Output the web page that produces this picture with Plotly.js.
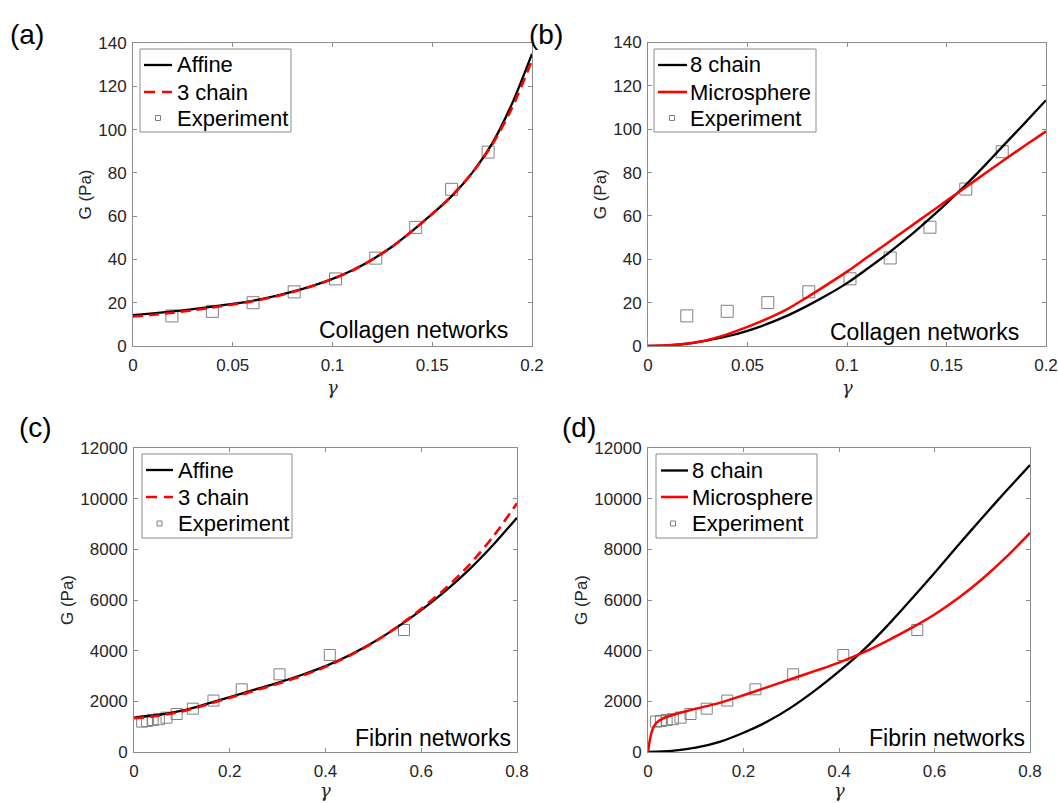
<!DOCTYPE html>
<html>
<head>
<meta charset="utf-8">
<script src="https://cdn.plot.ly/plotly-3.0.1.min.js"></script>
<style>html,body{margin:0;padding:0;background:#fff;}#chart{width:1058px;height:803px;}</style>
</head>
<body>
<div id="chart"></div>
<script>
// ---------- data ----------
// Collagen panels (a), (b)
const gammaCollagen = [0,0.01,0.02,0.03,0.04,0.05,0.06,0.07,0.08,0.09,0.10,0.11,0.12,0.13,0.14,0.15,0.16,0.17,0.18,0.19,0.20];
const affineCollagen = [14.3,15.1,16.0,17.0,18.2,19.5,20.9,22.8,25.1,27.8,31.0,35.0,40.0,46.0,53.2,61.0,69.5,80.0,93.5,112,135];
const threeChainCollagen = [13.6,14.4,15.4,16.5,17.8,19.2,20.7,22.6,24.9,27.7,30.9,34.9,40.0,46.0,53.2,61.0,69.6,80.0,93.0,110,132];
const eightChainCollagen = [0,0.3,1.1,2.6,4.5,7.0,10.2,14.0,18.5,23.5,29.0,35.5,42.3,49.6,57.5,65.8,74.6,84.0,93.8,103.5,113.4];
const microCollagen = [0,0.3,1.2,2.8,5.5,8.8,12.6,17.0,22.5,28.3,34.3,40.8,47.3,53.9,60.4,67.0,73.5,80.0,86.5,92.8,99.0];
const gammaExpCollagen = [0.0195,0.0398,0.0602,0.0808,0.1015,0.1217,0.1417,0.1597,0.178];
const GExpCollagen = [13.9,16.0,20.0,25.0,31.0,40.6,54.8,72.4,89.6];

// Fibrin panels (c), (d)
const gammaFibrin = [0,0.05,0.10,0.15,0.20,0.25,0.30,0.35,0.40,0.45,0.50,0.55,0.60,0.65,0.70,0.75,0.80];
const affineFibrin = [1360,1460,1630,1890,2170,2450,2730,3040,3390,3820,4330,4930,5600,6350,7200,8170,9250];
const threeChainFibrin = [1330,1430,1600,1860,2140,2410,2690,3000,3360,3800,4320,4940,5650,6450,7380,8500,9820];
const eightChainFibrin = [0,45,170,400,760,1200,1760,2430,3180,4000,4960,6000,7070,8170,9250,10300,11330];
const gammaMicroFibrin = [0,0.0025,0.005,0.0075,0.01,0.015,0.02,0.03,0.04,0.06,0.08,0.10,0.15,0.20,0.25,0.30,0.35,0.40,0.45,0.50,0.55,0.60,0.65,0.70,0.75,0.80];
const microFibrin = [0,320,580,780,920,1090,1190,1310,1390,1510,1610,1710,1940,2240,2560,2880,3200,3530,3920,4380,4880,5430,6080,6830,7690,8650];
const gammaExpFibrin = [0.017,0.027,0.039,0.052,0.068,0.089,0.123,0.166,0.225,0.304,0.409,0.564];
const GExpFibrin = [1200,1225,1265,1295,1355,1500,1710,2030,2475,3065,3830,4815];

const namesLeft = ['Affine','3 chain','Experiment'];
const namesRight = ['8 chain','Microsphere','Experiment'];
const panelLabels = ['(a)','(b)','(c)','(d)'];
const materialLabels = ['Collagen networks','Collagen networks','Fibrin networks','Fibrin networks'];
const xTitle = '<i>γ</i>';
const yTitle = 'G (Pa)';

// ---------- layout helpers ----------
const W = 1058, H = 803;
const FONT = '"Liberation Sans", Arial, Helvetica, sans-serif';
const AXC = '#8c8c8c', TXT = '#262626', EXPC = '#808080';
const px = x => x / W;
const py = y => 1 - y / H;

const boxes = [ // [left, top, right, bottom] in px
  [133, 43, 532, 346],
  [648, 42.5, 1046, 346],
  [134, 448, 517, 752],
  [648, 448, 1030, 752]
];

function axisX(i, range, dtick) {
  const b = boxes[i];
  return {domain: [px(b[0]), px(b[2])], range: range, dtick: dtick, tick0: 0,
    anchor: 'y' + (i ? i + 1 : ''), showgrid: false, zeroline: false,
    showline: true, linecolor: AXC, linewidth: 1, mirror: 'ticks',
    ticks: 'inside', ticklen: 4, tickcolor: AXC, tickwidth: 1,
    tickfont: {family: FONT, size: 17, color: TXT}, ticklabelstandoff: 4};
}
function axisY(i, range, dtick) {
  const b = boxes[i];
  return {domain: [py(b[3]), py(b[1])], range: range, dtick: dtick, tick0: 0,
    anchor: 'x' + (i ? i + 1 : ''), showgrid: false, zeroline: false,
    showline: true, linecolor: AXC, linewidth: 1, mirror: 'ticks',
    ticks: 'inside', ticklen: 4, tickcolor: AXC, tickwidth: 1, tickformat: 'd',
    tickfont: {family: FONT, size: 17, color: TXT}, ticklabelstandoff: 2,
    title: {text: yTitle, font: {family: FONT, size: 17, color: TXT}, standoff: 2}};
}

const RED = '#ff0000', BLACK = '#000000';
function line(x, y, color, dash, width, ax) {
  return {type: 'scatter', mode: 'lines', x: x, y: y, xaxis: 'x' + ax, yaxis: 'y' + ax,
    line: {color: color, width: width, dash: dash, shape: 'spline', smoothing: 0.8},
    showlegend: false, hoverinfo: 'skip'};
}
function exp(x, y, ax, size) {
  return {type: 'scatter', mode: 'markers', x: x, y: y, xaxis: 'x' + ax, yaxis: 'y' + ax,
    marker: {symbol: 'square-open', size: size, color: EXPC, line: {width: 1, color: EXPC}},
    showlegend: false};
}
const DASH = '10px,6px';

const traces = [
  exp(gammaExpCollagen, GExpCollagen, '', 12),
  line(gammaCollagen, affineCollagen, BLACK, 'solid', 2.3, ''),
  line(gammaCollagen, threeChainCollagen, RED, DASH, 2.6, ''),
  exp(gammaExpCollagen, GExpCollagen, '2', 12),
  line(gammaCollagen, eightChainCollagen, BLACK, 'solid', 2.3, '2'),
  line(gammaCollagen, microCollagen, RED, 'solid', 2.5, '2'),
  exp(gammaExpFibrin, GExpFibrin, '3', 11),
  line(gammaFibrin, affineFibrin, BLACK, 'solid', 2.3, '3'),
  line(gammaFibrin, threeChainFibrin, RED, DASH, 2.6, '3'),
  exp(gammaExpFibrin, GExpFibrin, '4', 11),
  line(gammaFibrin, eightChainFibrin, BLACK, 'solid', 2.3, '4'),
  line(gammaMicroFibrin, microFibrin, RED, 'solid', 2.5, '4')
];

// ---------- manual MATLAB-style legends ----------
const legends = [
  {box: [140, 49, 291, 132], lx: [144, 172], tx: 175, mx: 158, rows: [65, 92, 118], names: namesLeft, dashes: ['solid', 'dash']},
  {box: [654, 49, 816, 132], lx: [658, 687], tx: 688, mx: 672, rows: [65, 92, 118], names: namesRight, dashes: ['solid', 'solid']},
  {box: [142, 454, 292, 538], lx: [146, 173], tx: 176, mx: 159.5, rows: [470, 497, 523.5], names: namesLeft, dashes: ['solid', 'dash']},
  {box: [656, 454, 817, 538], lx: [661, 688], tx: 690, mx: 673, rows: [470.5, 497, 523.5], names: namesRight, dashes: ['solid', 'solid']}
];
const shapes = [], annotations = [];
legends.forEach(lg => {
  const b = lg.box;
  shapes.push({type: 'rect', xref: 'paper', yref: 'paper', x0: px(b[0]), x1: px(b[2]), y0: py(b[3]), y1: py(b[1]),
    line: {color: AXC, width: 1}, fillcolor: 'rgba(255,255,255,1)', layer: 'above'});
  [BLACK, RED].forEach((c, k) => {
    shapes.push({type: 'line', xref: 'paper', yref: 'paper', x0: px(lg.lx[0]), x1: px(lg.lx[1]),
      y0: py(lg.rows[k]), y1: py(lg.rows[k]), layer: 'above',
      line: {color: c, width: k ? 2.6 : 2.3, dash: lg.dashes[k] === 'dash' ? '11px,7px' : 'solid'}});
  });
  shapes.push({type: 'rect', xref: 'paper', yref: 'paper', x0: px(lg.mx - 2.5), x1: px(lg.mx + 2.5),
    y0: py(lg.rows[2] + 2.5), y1: py(lg.rows[2] - 2.5), layer: 'above', line: {color: EXPC, width: 1}});
  lg.names.forEach((n, k) => {
    annotations.push({xref: 'paper', yref: 'paper', x: px(lg.tx), y: py(lg.rows[k]), xanchor: 'left', yanchor: 'middle',
      text: n, showarrow: false, font: {family: FONT, size: 22, color: BLACK}});
  });
});

// x-axis titles (gamma), centred under each panel
const xTitleY = [387.5, 387.5, 790.5, 790.5];
boxes.forEach((b, i) => annotations.push({xref: 'x' + (i ? i + 1 : '') + ' domain', yref: 'paper', x: 0.5, y: py(xTitleY[i]),
  xanchor: 'center', yanchor: 'middle', text: xTitle, showarrow: false,
  font: {family: 'DejaVu Serif, serif', size: 18, color: TXT}}));

const labelPos = [[26.5, 34.5], [546, 34.5], [35.5, 427], [578.5, 427]];
panelLabels.forEach((t, i) => annotations.push({xref: 'paper', yref: 'paper', x: px(labelPos[i][0]), y: py(labelPos[i][1]),
  xanchor: 'center', yanchor: 'middle', text: t, showarrow: false, font: {family: FONT, size: 28, color: BLACK}}));

const matPos = [[510, 330], [1021, 332], [513, 738], [1027, 738]];
materialLabels.forEach((t, i) => annotations.push({xref: 'paper', yref: 'paper', x: px(matPos[i][0]), y: py(matPos[i][1]),
  xanchor: 'right', yanchor: 'middle', text: t, showarrow: false, font: {family: FONT, size: 23, color: BLACK}}));

const layout = {
  width: W, height: H, margin: {l: 0, r: 0, t: 0, b: 0},
  paper_bgcolor: '#fff', plot_bgcolor: '#fff', showlegend: false,
  xaxis: axisX(0, [0, 0.2], 0.05), yaxis: axisY(0, [0, 140], 20),
  xaxis2: axisX(1, [0, 0.2], 0.05), yaxis2: axisY(1, [0, 140], 20),
  xaxis3: axisX(2, [0, 0.8], 0.2), yaxis3: axisY(2, [0, 12000], 2000),
  xaxis4: axisX(3, [0, 0.8], 0.2), yaxis4: axisY(3, [0, 12000], 2000),
  shapes: shapes, annotations: annotations
};
Plotly.newPlot('chart', traces, layout, {staticPlot: true, displayModeBar: false});
</script>
</body>
</html>
